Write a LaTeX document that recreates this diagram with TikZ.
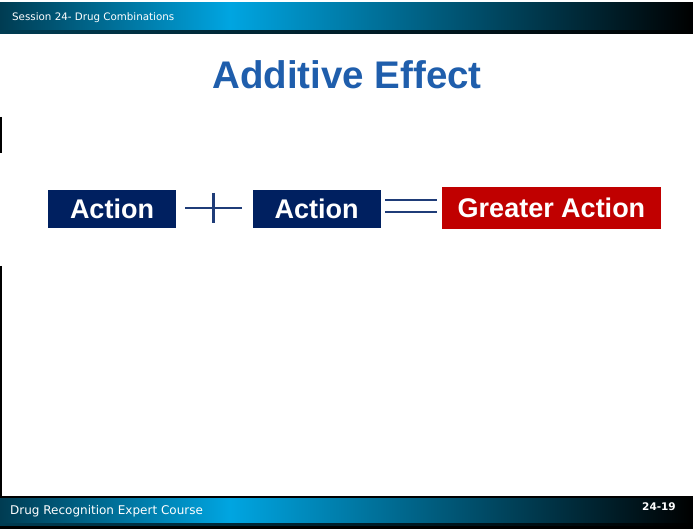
\documentclass[tikz,border=0pt]{standalone}
\usepackage{fontspec}
\setmainfont{Liberation Sans}
\newfontfamily\barfont{DejaVu Sans}
\usetikzlibrary{positioning}
\definecolor{navy}{RGB}{0,32,96}
\definecolor{deepred}{RGB}{192,0,0}
\definecolor{titleblue}{RGB}{31,94,172}
\definecolor{signblue}{RGB}{31,60,120}
\definecolor{barteal}{RGB}{0,60,82}
\definecolor{barcyan}{RGB}{0,165,225}
\tikzset{
  actbox/.style={fill=navy, text=white, font=\fontsize{27}{27}\selectfont\bfseries,
    minimum width=128pt, minimum height=38pt, inner sep=0pt},
  resbox/.style={actbox, fill=deepred, minimum width=219pt, minimum height=42pt},
  sign/.style={signblue, line width=2.2pt},
  bartext/.style={text=white, anchor=west, inner sep=0pt}
}
\begin{document}
\begin{tikzpicture}[x=1pt, y=-1pt]
  \useasboundingbox (0,0) rectangle (693,529);
  \fill[white] (0,0) rectangle (693,529);
  % header bar
  \shade[left color=barteal, right color=barcyan] (0,3) rectangle (230,31);
  \shade[left color=barcyan, right color=black] (230,3) rectangle (693,31);
  \shade[left color=barteal, right color=black] (0,31) rectangle (693,34);
  \node[bartext, font=\barfont\fontsize{10.3}{10}\selectfont] (session) at (12,18) {Session 24- Drug Combinations};
  % footer bar
  \fill[black] (0,496) rectangle (693,498);
  \shade[left color=barteal, right color=barcyan] (0,498) rectangle (230,523);
  \shade[left color=barcyan, right color=black] (230,498) rectangle (693,523);
  \shade[left color=barteal, right color=black] (0,523) rectangle (693,526);
  \fill[black] (0,526) rectangle (693,529);
  \node[bartext, font=\barfont\fontsize{12}{12}\selectfont] (course) at (10,511) {Drug Recognition Expert Course};
  \node[bartext, font=\barfont\fontsize{10.5}{10}\selectfont\bfseries] (slideno) at (642,507) {24-19};
  % left edge
  \draw[black, line width=1.5pt] (0.75,117) -- (0.75,153);
  \draw[black, line width=1.5pt] (0.75,266) -- (0.75,496);
  % title
  \node[titleblue, font=\fontsize{38.5}{38}\selectfont\bfseries] (title) at (347,75) {Additive Effect};
  % equation
  \node[actbox] (act1) at (112,209) {Action};
  \node[actbox] (act2) at (316.5,209) {Action};
  \node[resbox] (greater) at (551.5,208) {Greater Action};
  \coordinate (plus) at (213.5,208);
  \coordinate (equal) at (411,206);
  \draw[sign] ([xshift=-28.5pt]plus) -- ([xshift=28.5pt]plus);
  \draw[sign] ([yshift=15pt]plus) -- ([yshift=-15pt]plus);
  \draw[sign] ([xshift=-26pt,yshift=-6pt]equal) -- ([xshift=26pt,yshift=-6pt]equal);
  \draw[sign] ([xshift=-26pt,yshift=6pt]equal) -- ([xshift=26pt,yshift=6pt]equal);
\end{tikzpicture}
\end{document}
